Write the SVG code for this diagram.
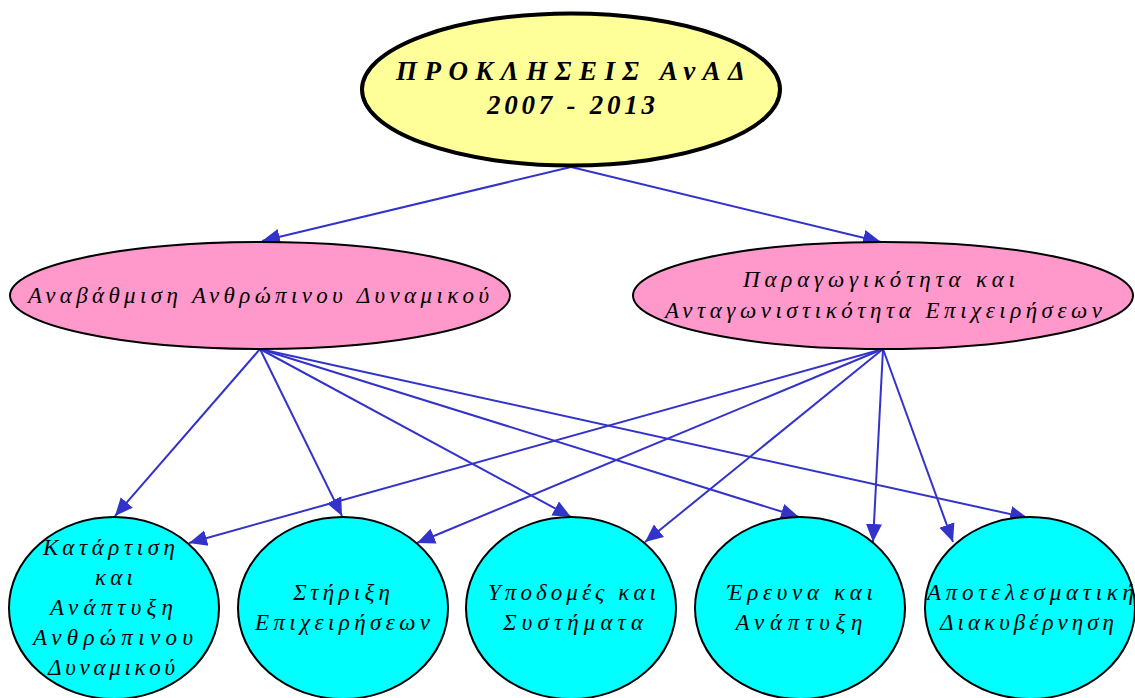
<svg xmlns="http://www.w3.org/2000/svg" width="1135" height="698" viewBox="0 0 1135 698">
<style>
text{font-family:"Liberation Serif","DejaVu Serif",serif;font-style:italic;fill:#000;text-anchor:middle}
.t1{font-size:27px;font-weight:bold}
.t2{font-size:23px}
.e{stroke:#3333cc;stroke-width:2;fill:none}
.root{fill:#ffff99;stroke:#000;stroke-width:4}
.mid{fill:#ff99cc;stroke:#000;stroke-width:2}
.leaf{fill:#00ffff;stroke:#000;stroke-width:2}
</style>
<defs>
<marker id="ah" markerUnits="userSpaceOnUse" markerWidth="20" markerHeight="18" viewBox="0 -9 20 18" refX="18" refY="0" orient="auto">
<path d="M0,-8 L18,0 L0,8 z" fill="#3333cc"/>
</marker>
</defs>
<rect width="1135" height="698" fill="#fff"/>
<g id="connectors">
<path class="e" d="M571,167 L262,241" marker-end="url(#ah)"/>
<path class="e" d="M571,167 L881,242" marker-end="url(#ah)"/>
<path class="e" d="M260,349 L115,516" marker-end="url(#ah)"/>
<path class="e" d="M260,349 L342,516" marker-end="url(#ah)"/>
<path class="e" d="M260,349 L571,517" marker-end="url(#ah)"/>
<path class="e" d="M260,349 L799,517" marker-end="url(#ah)"/>
<path class="e" d="M260,349 L1028,518" marker-end="url(#ah)"/>
<path class="e" d="M883,349 L189,543" marker-end="url(#ah)"/>
<path class="e" d="M883,349 L417,543" marker-end="url(#ah)"/>
<path class="e" d="M883,349 L645,542" marker-end="url(#ah)"/>
<path class="e" d="M883,349 L873,542" marker-end="url(#ah)"/>
<path class="e" d="M883,349 L953,542" marker-end="url(#ah)"/>
</g>
<g id="root">
<ellipse class="root" cx="571" cy="89.5" rx="209" ry="76"/>
<text class="t1" x="570.5" y="80" textLength="349" lengthAdjust="spacing">ΠΡΟΚΛΗΣΕΙΣ ΑνΑΔ</text>
<text class="t1" x="571" y="114" textLength="168" lengthAdjust="spacing">2007 - 2013</text>
</g>
<g id="hr">
<ellipse class="mid" cx="260" cy="295.5" rx="250" ry="53.5"/>
<text class="t2" x="258.5" y="303" textLength="461" lengthAdjust="spacing">Αναβάθμιση Ανθρώπινου Δυναμικού</text>
</g>
<g id="prod">
<ellipse class="mid" cx="883" cy="295.5" rx="250" ry="53.5"/>
<text class="t2" x="879" y="287" textLength="272" lengthAdjust="spacing">Παραγωγικότητα και</text>
<text class="t2" x="883.5" y="318" textLength="437" lengthAdjust="spacing">Ανταγωνιστικότητα Επιχειρήσεων</text>
</g>
<g id="training">
<ellipse class="leaf" cx="114" cy="608" rx="105" ry="91"/>
<text class="t2" x="109" y="555" textLength="132" lengthAdjust="spacing">Κατάρτιση</text>
<text class="t2" x="114" y="585" textLength="38" lengthAdjust="spacing">και</text>
<text class="t2" x="111.5" y="615" textLength="123" lengthAdjust="spacing">Ανάπτυξη</text>
<text class="t2" x="113" y="645" textLength="160" lengthAdjust="spacing">Ανθρώπινου</text>
<text class="t2" x="111.5" y="675" textLength="127" lengthAdjust="spacing">Δυναμικού</text>
</g>
<g id="business">
<ellipse class="leaf" cx="343" cy="608" rx="105" ry="91"/>
<text class="t2" x="341.5" y="600" textLength="97" lengthAdjust="spacing">Στήριξη</text>
<text class="t2" x="342.5" y="630" textLength="175" lengthAdjust="spacing">Επιχειρήσεων</text>
</g>
<g id="infra">
<ellipse class="leaf" cx="571" cy="608" rx="105" ry="91"/>
<text class="t2" x="572" y="600" textLength="168" lengthAdjust="spacing">Υποδομές και</text>
<text class="t2" x="573" y="630" textLength="140" lengthAdjust="spacing">Συστήματα</text>
</g>
<g id="research">
<ellipse class="leaf" cx="800" cy="608" rx="105" ry="91"/>
<text class="t2" x="800" y="600" textLength="146" lengthAdjust="spacing">Έρευνα και</text>
<text class="t2" x="799" y="630" textLength="127" lengthAdjust="spacing">Ανάπτυξη</text>
</g>
<g id="governance">
<ellipse class="leaf" cx="1030" cy="608" rx="105" ry="91"/>
<text class="t2" x="1030.5" y="600" textLength="207" lengthAdjust="spacing">Αποτελεσματική</text>
<text class="t2" x="1027" y="630" textLength="174" lengthAdjust="spacing">Διακυβέρνηση</text>
</g>
</svg>
